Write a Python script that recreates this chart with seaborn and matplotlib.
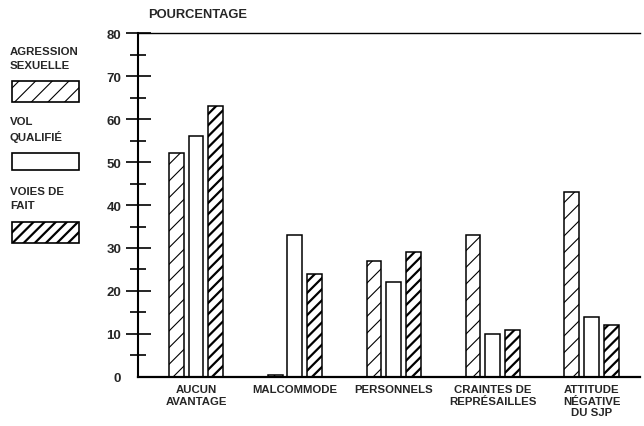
import pandas as pd
import seaborn as sns
import matplotlib.pyplot as plt
from matplotlib.patches import Rectangle

# data
categories = ["AUCUN\nAVANTAGE", "MALCOMMODE", "PERSONNELS",
              "CRAINTES DE\nREPRÉSAILLES", "ATTITUDE\nNÉGATIVE\nDU SJP"]
series = ["AGRESSION\nSEXUELLE", "VOL\nQUALIFIÉ", "VOIES DE\nFAIT"]
agression = [52, 0.5, 27, 33, 43]
vol = [56, 33, 22, 10, 14]
voies = [63, 24, 29, 11, 12]

hatches = ["//", "", "///"]
hatch_lw = [0.8, 0, 1.6]

data = pd.DataFrame({
    "motif": categories * 3,
    "crime": sum([[s] * len(categories) for s in series], []),
    "pct": agression + vol + voies,
})

sns.set_style("white")
plt.rcParams["font.family"] = ["Liberation Sans", "DejaVu Sans"]
plt.rcParams["font.weight"] = "bold"
plt.rcParams["hatch.color"] = "black"

fig = plt.figure(figsize=(6.44, 4.27), dpi=100)
ax = fig.add_axes([0.2143, 0.1148, 0.7797, 0.8055])

sns.barplot(data=data, x="motif", y="pct", hue="crime", order=categories,
            hue_order=series, width=0.6, gap=0.25,
            palette=["white"] * 3, edgecolor="black", linewidth=1.1,
            legend=False, ax=ax)

n = len(categories)
for i, bar in enumerate(ax.patches[:3 * n]):
    k = i // n
    bar.set_hatch(hatches[k])
    if hatches[k] and hasattr(bar, "set_hatch_linewidth"):
        bar.set_hatch_linewidth(hatch_lw[k])

ax.set_xlim(-0.586, 4.49)
ax.set_ylim(0, 80)
ax.set_xlabel("")
ax.set_ylabel("")

ax.set_yticks(range(0, 81, 10))
ax.set_yticks(range(5, 80, 10), minor=True)
ax.tick_params(axis="y", which="both", left=True, color="black")
ax.tick_params(axis="y", which="major", direction="inout", length=18,
               width=1.2, pad=3, labelsize=9.5)
ax.tick_params(axis="y", which="minor", direction="inout", length=11,
               width=1.2)
ax.yaxis.get_major_ticks()[0].tick1line.set_visible(False)
ax.tick_params(axis="x", length=0, pad=5, labelsize=8.2)
for lab in ax.get_xticklabels():
    lab.set_fontweight("bold")
    lab.set_va("top")
    lab.set_linespacing(1.2)
for lab in ax.get_yticklabels():
    lab.set_fontweight("bold")

for s in ["left", "bottom", "top"]:
    ax.spines[s].set_visible(True)
    ax.spines[s].set_color("black")
ax.spines["left"].set_linewidth(1.5)
ax.spines["bottom"].set_linewidth(1.6)
ax.spines["top"].set_linewidth(1.0)
ax.spines["right"].set_visible(False)

fig.text(148 / 644, 1 - 15 / 427, "POURCENTAGE", fontsize=9.3,
         fontweight="bold", va="center", ha="left")

# legend on the left, built by hand like the original
legend_text_y = [59, 130, 199]
legend_box_y = [82, 154, 223]
legend_box_h = [21, 17, 21]
for k, name in enumerate(series):
    fig.text(10 / 644, 1 - legend_text_y[k] / 427, name, fontsize=8.2,
             fontweight="bold", va="center", ha="left", linespacing=1.45)
    r = Rectangle((12 / 644, 1 - (legend_box_y[k] + legend_box_h[k]) / 427),
                  67 / 644, legend_box_h[k] / 427, transform=fig.transFigure,
                  facecolor="white", edgecolor="black", linewidth=1.2,
                  hatch=hatches[k])
    if hatches[k] and hasattr(r, "set_hatch_linewidth"):
        r.set_hatch_linewidth(hatch_lw[k])
    fig.add_artist(r)

fig.savefig("out.png", dpi=100)
